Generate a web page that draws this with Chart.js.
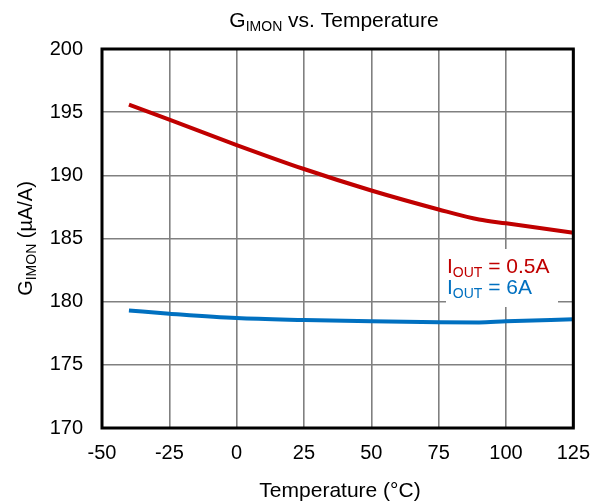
<!DOCTYPE html>
<html>
<head>
<meta charset="utf-8">
<script src="https://cdn.jsdelivr.net/npm/chart.js@4/dist/chart.umd.min.js"></script>
<style>
  body { margin: 0; background: #fff; }
  #wrap { width: 603px; height: 502px; }
</style>
</head>
<body>
<div id="wrap"><canvas id="gimon" width="603" height="502"></canvas></div>
<script>
const temperature = [-40, -25, 0, 25, 50, 75, 90, 100, 125];
const gainLowCurrent = [195.6, 194.4, 192.4, 190.5, 188.8, 187.3, 186.5, 186.2, 185.45];
const gainHighCurrent = [179.3, 179.05, 178.7, 178.55, 178.45, 178.38, 178.36, 178.45, 178.6];
const xTicks = [-50, -25, 0, 25, 50, 75, 100, 125];
const yTicks = [170, 175, 180, 185, 190, 195, 200];

const RED = '#C00000';
const BLUE = '#0070C0';
const FONT = '"Liberation Sans", Arial, sans-serif';

// text with subscripts: parts = [[text, isSub], ...]
function partsWidth(ctx, parts, size, subSize) {
  let w = 0;
  parts.forEach(([t, sub]) => {
    ctx.font = (sub ? subSize : size) + 'px ' + FONT;
    w += ctx.measureText(t).width;
  });
  return w;
}

function drawParts(ctx, parts, x, y, size, subSize, color, align) {
  let w = partsWidth(ctx, parts, size, subSize);
  let cx = align === 'center' ? x - w / 2 : x;
  ctx.fillStyle = color;
  ctx.textBaseline = 'alphabetic';
  ctx.textAlign = 'left';
  parts.forEach(([t, sub]) => {
    ctx.font = (sub ? subSize : size) + 'px ' + FONT;
    ctx.fillText(t, cx, sub ? y + 4 : y);
    cx += ctx.measureText(t).width;
  });
}

const labelsPlugin = {
  id: 'labels',
  beforeDatasetsDraw(chart) {
    const ctx = chart.ctx;
    // white box behind the legend
    ctx.save();
    ctx.fillStyle = '#fff';
    ctx.fillRect(446, 249, 112, 58);
    ctx.restore();
  },
  afterDraw(chart) {
    const ctx = chart.ctx;
    const a = chart.chartArea;
    ctx.save();
    // plot frame
    ctx.strokeStyle = '#000';
    ctx.lineWidth = 3;
    ctx.strokeRect(a.left, a.top, a.right - a.left, a.bottom - a.top);

    // title
    drawParts(ctx, [['G', false], ['IMON', true], [' vs. Temperature', false]],
      334, 27, 21, 14, '#000', 'center');

    // x axis title
    drawParts(ctx, [['Temperature (°C)', false]], 340, 497, 21, 14, '#000', 'center');

    // y axis title, rotated
    ctx.save();
    ctx.translate(32, (a.top + a.bottom) / 2);
    ctx.rotate(-Math.PI / 2);
    drawParts(ctx, [['G', false], ['IMON', true], [' (µA/A)', false]], 0, 0, 20, 14, '#000', 'center');
    ctx.restore();

    // legend
    drawParts(ctx, [['I', false], ['OUT', true], [' = 0.5A', false]], 447, 273, 21, 14, RED, 'left');
    drawParts(ctx, [['I', false], ['OUT', true], [' = 6A', false]], 447, 294, 21, 14, BLUE, 'left');
    ctx.restore();
  }
};

new Chart(document.getElementById('gimon'), {
  type: 'line',
  data: {
    labels: temperature,
    datasets: [{
      label: 'IOUT = 0.5A',
      data: temperature.map((t, i) => ({ x: t, y: gainLowCurrent[i] })),
      borderColor: RED,
      borderWidth: 4,
      pointRadius: 0,
      cubicInterpolationMode: 'monotone',
      fill: false
    }, {
      label: 'IOUT = 6A',
      data: temperature.map((t, i) => ({ x: t, y: gainHighCurrent[i] })),
      borderColor: BLUE,
      borderWidth: 4,
      pointRadius: 0,
      cubicInterpolationMode: 'monotone',
      fill: false
    }]
  },
  options: {
    responsive: false,
    animation: false,
    events: [],
    layout: {
      padding: { top: 49, right: 28, left: 0, bottom: 0 }
    },
    plugins: {
      legend: { display: false },
      title: { display: false },
      tooltip: { enabled: false }
    },
    scales: {
      x: {
        type: 'linear',
        min: -50,
        max: 125,
        afterBuildTicks: (scale) => { scale.ticks = xTicks.map(v => ({ value: v })); },
        afterFit: (scale) => { scale.height = 74; },
        grid: { color: '#808080', lineWidth: 1.6, drawTicks: false },
        border: { display: false },
        ticks: {
          color: '#000',
          padding: 13,
          maxRotation: 0,
          font: { family: FONT, size: 20 }
        }
      },
      y: {
        min: 170,
        max: 200,
        afterBuildTicks: (scale) => { scale.ticks = yTicks.map(v => ({ value: v })); },
        afterFit: (scale) => { scale.width = 102; },
        grid: { color: '#808080', lineWidth: 1.6, drawTicks: false },
        border: { display: false },
        ticks: {
          color: '#000',
          padding: 19,
          font: { family: FONT, size: 20 }
        }
      }
    }
  },
  plugins: [labelsPlugin]
});
</script>
</body>
</html>
